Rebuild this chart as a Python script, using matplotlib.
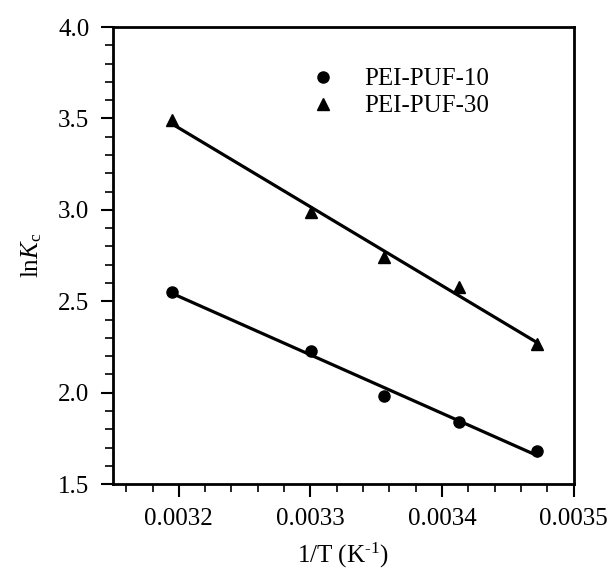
import numpy as np
import matplotlib
matplotlib.use("Agg")
import matplotlib.pyplot as plt
from matplotlib.ticker import MultipleLocator

plt.rcParams["font.family"] = "Liberation Serif"
plt.rcParams["mathtext.fontset"] = "custom"
plt.rcParams["mathtext.rm"] = "Liberation Serif"
plt.rcParams["mathtext.it"] = "Liberation Serif:italic"

# 1/T values (K^-1) and ln Kc
inv_T = [1/313, 1/303, 1/298, 1/293, 1/288]
lnKc_10 = [2.55, 2.23, 1.98, 1.84, 1.68]
lnKc_30 = [3.49, 2.99, 2.74, 2.58, 2.265]

fig = plt.figure(figsize=(6.11, 5.75), dpi=100)
ax = fig.add_axes([0.185, 0.158, 0.754, 0.795])

x = np.array(inv_T)
for y, marker, label in [(lnKc_10, "o", "PEI-PUF-10"), (lnKc_30, "^", "PEI-PUF-30")]:
    ax.plot(x, y, linestyle="none", marker=marker, color="black", markersize=8, label=label)
    k, b = np.polyfit(x, y, 1)
    ax.plot(x[[0, -1]], k * x[[0, -1]] + b, color="black", lw=2.3)

ax.set_xlim(0.00315, 0.0035)
ax.set_ylim(1.5, 4.0)
ax.xaxis.set_minor_locator(MultipleLocator(0.00002))
ax.yaxis.set_minor_locator(MultipleLocator(0.1))
ax.set_xticks([0.0032, 0.0033, 0.0034, 0.0035])
ax.set_xticklabels(["0.0032", "0.0033", "0.0034", "0.0035"])
ax.set_yticks([1.5, 2.0, 2.5, 3.0, 3.5, 4.0])
ax.set_yticklabels(["1.5", "2.0", "2.5", "3.0", "3.5", "4.0"])
ax.tick_params(which="major", direction="out", length=9, width=1.5, labelsize=18, pad=8)
ax.tick_params(which="minor", direction="out", length=6, width=1.2)
for s in ax.spines.values():
    s.set_linewidth(2)

ax.set_xlabel("1/T (K$^{\\mathrm{\u2010}1}$)", fontsize=18, labelpad=8)
ax.set_ylabel("ln$\\mathit{K}_\\mathrm{c}$", fontsize=18, labelpad=10)

ax.legend(loc="upper left", bbox_to_anchor=(0.38, 0.96), frameon=False, fontsize=18,
          handletextpad=1.15, labelspacing=0.18, handlelength=1.0)

fig.savefig("out.png", dpi=100)
